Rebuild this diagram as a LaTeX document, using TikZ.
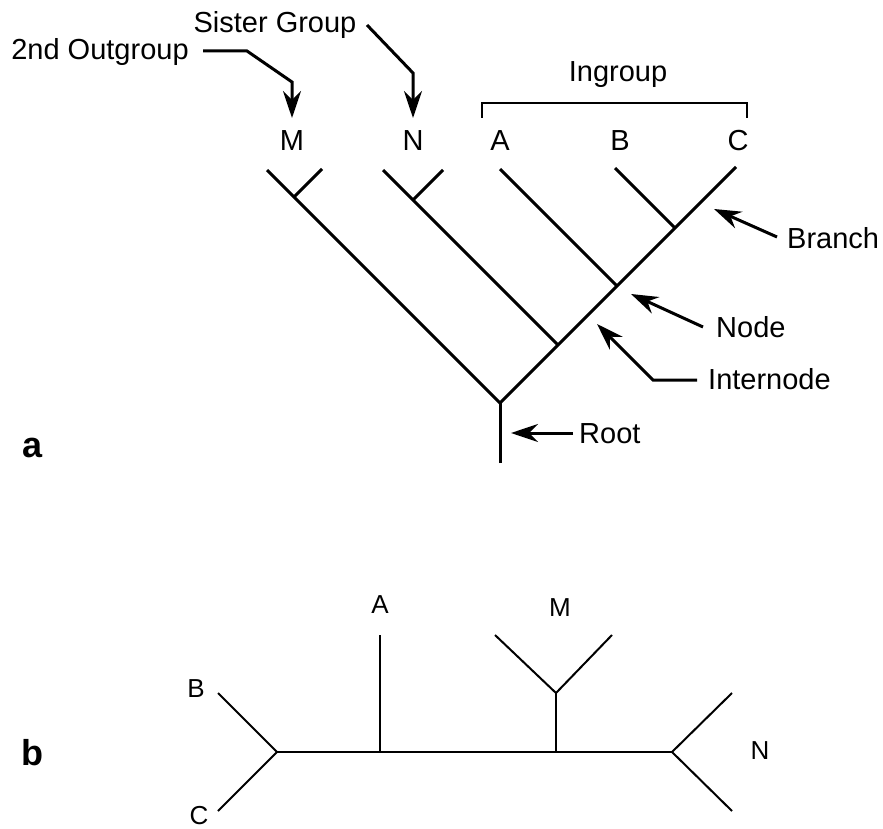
\documentclass[tikz,border=0pt]{standalone}
\usepackage{fontspec}
\setmainfont{Liberation Sans}
\usetikzlibrary{arrows.meta}
\begin{document}
\begin{tikzpicture}[x=1pt,y=-1pt,
  lbl/.style={font=\fontsize{29}{34}\selectfont, inner sep=0pt, anchor=base},
  lblw/.style={lbl, anchor=base west},
  slbl/.style={font=\fontsize{26}{30}\selectfont, inner sep=0pt, anchor=base},
  panel/.style={font=\bfseries\fontsize{36}{42}\selectfont, inner sep=0pt, anchor=base},
  treeA/.style={line width=3pt, line join=miter},
  treeB/.style={line width=2pt, line join=miter},
  bracketline/.style={line width=2pt},
  arr/.style={line width=3pt, line join=miter, -{Stealth[length=27pt,width=18pt,inset=9pt]}}
]
\useasboundingbox (0,0) rectangle (883,829);

% ---------- panel a: labels ----------
\node[lbl] (lM) at (292,151) {M};
\node[lbl] (lN) at (413,151) {N};
\node[lbl] (lA) at (500,151) {A};
\node[lbl] (lB) at (620,151) {B};
\node[lbl] (lC) at (738,151) {C};
\node[lbl] (ingroup) at (618,82) {Ingroup};
\node[lbl] (outg) at (100,60) {2nd Outgroup};
\node[lbl] (sister) at (275,33) {Sister Group};
\node[lblw] (branch) at (787,248) {Branch};
\node[lblw] (nodelbl) at (716,337) {Node};
\node[lblw] (internode) at (708,389) {Internode};
\node[lblw] (rootlbl) at (579,443) {Root};
\node[panel] (pa) at (33,457) {a};

% ---------- panel a: tree ----------
\coordinate (r0) at (500,463);
\coordinate (r) at (500,403);
\coordinate (n1) at (558,345);
\coordinate (n2) at (617,286);
\coordinate (n3) at (675,228);
\coordinate (tC) at (736,167);
\coordinate (tB) at (615,168);
\coordinate (tA) at (500,169);
\coordinate (tN) at (383,170);
\coordinate (jN) at (413,200);
\coordinate (tN2) at (443,170);
\coordinate (tL) at (267,170);
\coordinate (jM) at (294,197);
\coordinate (tM2) at (322,169);

\draw[treeA] (r0) -- (r);
\draw[treeA] (tL) -- (r) -- (n1) -- (n2) -- (n3) -- (tC);
\draw[treeA] (jM) -- (tM2);
\draw[treeA] (tN) -- (n1);
\draw[treeA] (jN) -- (tN2);
\draw[treeA] (tA) -- (n2);
\draw[treeA] (tB) -- (n3);

% bracket
\coordinate (bk1) at (482,118);
\coordinate (bk2) at (482,103);
\coordinate (bk3) at (747,103);
\coordinate (bk4) at (747,118);
\draw[bracketline] (bk1) -- (bk2) -- (bk3) -- (bk4);

% ---------- panel a: arrows ----------
\coordinate (o1) at (203,51);
\coordinate (o2) at (247,51);
\coordinate (o3) at (292,82);
\coordinate (o4) at (292,118);
\draw[arr] (o1) -- (o2) -- (o3) -- (o4);

\coordinate (s1) at (367,25);
\coordinate (s2) at (413,73);
\coordinate (s3) at (413,118);
\draw[arr] (s1) -- (s2) -- (s3);

\coordinate (b1) at (777,237);
\coordinate (b2) at (714,209);
\draw[arr] (b1) -- (b2);

\coordinate (nd1) at (703,327);
\coordinate (nd2) at (631,294);
\draw[arr] (nd1) -- (nd2);

\coordinate (i1) at (697,380);
\coordinate (i2) at (653,380);
\coordinate (i3) at (597,324);
\draw[arr] (i1) -- (i2) -- (i3);

\coordinate (rt1) at (573,433);
\coordinate (rt2) at (511,433);
\draw[arr] (rt1) -- (rt2);

% ---------- panel b ----------
\node[panel] (pb) at (32,765) {b};
\node[slbl] (bA) at (380,613) {A};
\node[slbl] (bB) at (196,697) {B};
\node[slbl] (bC) at (199,824) {C};
\node[slbl] (bM) at (560,616) {M};
\node[slbl] (bN) at (760,759) {N};

\coordinate (fL) at (277,752);
\coordinate (ubB) at (218,693);
\coordinate (ubC) at (218,811);
\coordinate (jA) at (380,752);
\coordinate (ubA) at (380,635);
\coordinate (jMb) at (556,752);
\coordinate (fM) at (556,693);
\coordinate (uM1) at (495,635);
\coordinate (uM2) at (612,635);
\coordinate (fR) at (672,752);
\coordinate (uN1) at (732,693);
\coordinate (uN2) at (732,811);

\draw[treeB] (ubB) -- (fL) -- (ubC);
\draw[treeB] (fL) -- (fR);
\draw[treeB] (jA) -- (ubA);
\draw[treeB] (jMb) -- (fM);
\draw[treeB] (uM1) -- (fM) -- (uM2);
\draw[treeB] (uN1) -- (fR) -- (uN2);
\end{tikzpicture}
\end{document}
